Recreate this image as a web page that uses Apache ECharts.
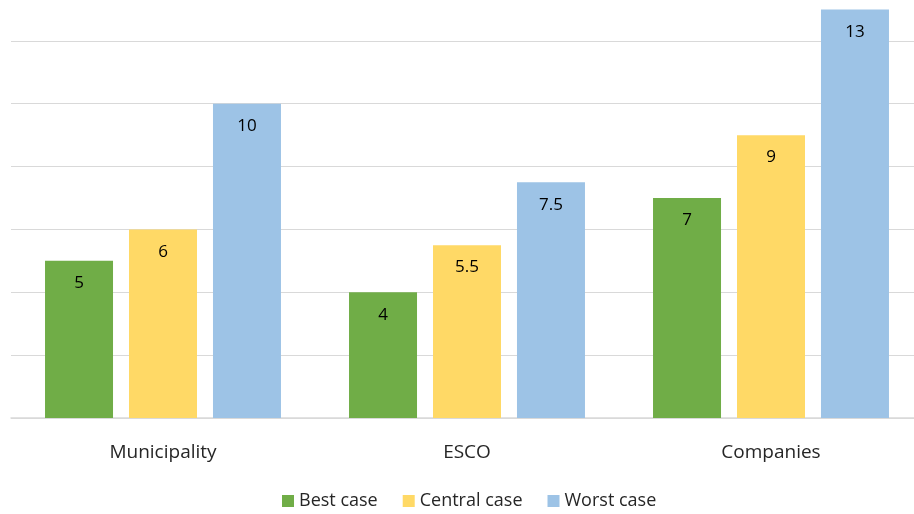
<!DOCTYPE html>
<html><head><meta charset="utf-8">
<script src="https://cdn.jsdelivr.net/npm/echarts@6/dist/echarts.min.js"></script>
<style>html,body{margin:0;padding:0;background:#fff;overflow:hidden;width:914px;height:514px}#c{width:923px;height:514px}</style>
</head><body><div id="c"></div>
<script>
const categories = ["Municipality", "ESCO", "Companies"];
const seriesNames = ["Best case", "Central case", "Worst case"];
const bestCase = [5, 4, 7];
const centralCase = [6, 5.5, 9];
const worstCase = [10, 7.5, 13];
const colors = ["#70AD47", "#FFD966", "#9DC3E6"];
const FONT = "Open Sans";
const chart = echarts.init(document.getElementById('c'), null, {renderer: 'canvas'});
const values = [bestCase, centralCase, worstCase];
chart.setOption({
  animation: false,
  textStyle: {fontFamily: FONT},
  grid: {left: 11, right: 0, top: 0, bottom: 96, containLabel: false},
  legend: {
    top: 487, left: 277, itemWidth: 12, itemHeight: 12, itemGap: 25,
    icon: 'rect',
    textStyle: {fontSize: 18, color: '#262626', fontFamily: FONT},
    data: seriesNames
  },
  xAxis: {
    type: 'category', data: categories,
    axisLine: {lineStyle: {color: '#d9d9d9', width: 1.5}},
    axisTick: {show: false},
    axisLabel: {fontSize: 19, color: '#262626', margin: 25, fontFamily: FONT}
  },
  yAxis: {
    type: 'value', min: 0, max: 13.3, interval: 2,
    axisLabel: {show: false}, axisLine: {show: false}, axisTick: {show: false},
    splitLine: {showMaxLine: false, lineStyle: {color: '#d9d9d9', width: 1.2}}
  },
  series: seriesNames.map((n, i) => ({
    name: n, type: 'bar', data: values[i],
    barWidth: 68, barGap: '23.5%', barCategoryGap: '22.4%',
    itemStyle: {color: colors[i]},
    label: {show: true, position: 'insideTop', distance: 14, fontSize: 17, color: '#000', fontFamily: FONT}
  }))
});
</script></body></html>
